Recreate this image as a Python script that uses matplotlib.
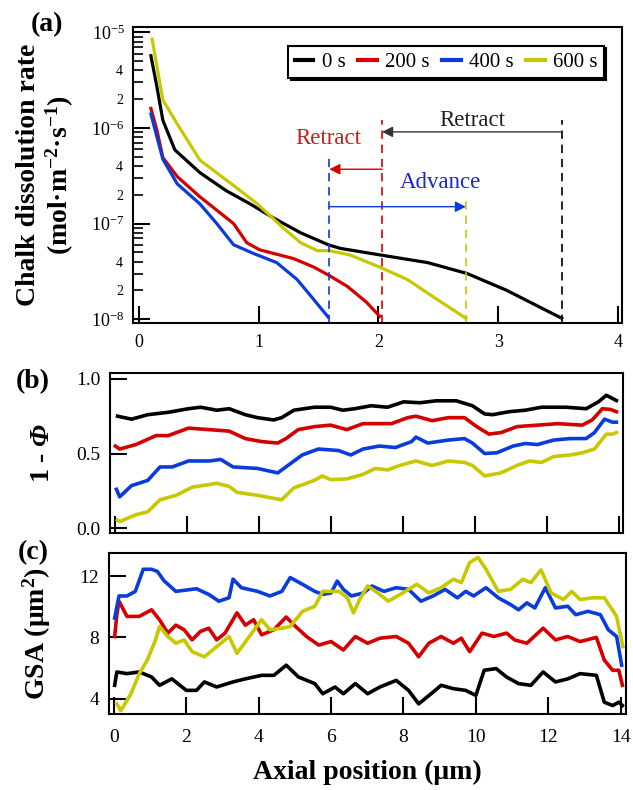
import matplotlib
matplotlib.use("Agg")
import matplotlib.pyplot as plt
from matplotlib.ticker import FixedLocator, FixedFormatter

# ==================================================
# Fonts (Times-like serif, bold labels)
# ==================================================
plt.rcParams["font.family"] = ["Liberation Serif", "DejaVu Serif"]
plt.rcParams["mathtext.fontset"] = "custom"
plt.rcParams["mathtext.rm"] = "Liberation Serif"
plt.rcParams["mathtext.it"] = "Liberation Serif:italic"
plt.rcParams["mathtext.bf"] = "Liberation Serif:bold"
# sf slot used for the bold italic Phi (mathtext forces capital Greek upright in "it")
plt.rcParams["mathtext.sf"] = "Liberation Serif:italic:bold"
plt.rcParams["axes.unicode_minus"] = False

# ==================================================
# Data
# ==================================================
series_labels = ["0 s", "200 s", "400 s", "600 s"]
series_colors = ["#000000", "#d40000", "#0a3cdc", "#c8c800"]

# (a) chalk dissolution rate vs axial position
rate_x_0s = [0.10, 0.15, 0.20, 0.30, 0.51, 0.73, 0.93, 1.12, 1.35, 1.58, 1.68, 2.01, 2.41, 2.74, 3.07, 3.53]
rate_y_0s = [5.7e-6, 2.7e-6, 1.2e-6, 5.9e-7, 3.4e-7, 2.2e-7, 1.6e-7, 1.15e-7, 8.0e-8, 6.0e-8, 5.5e-8,
             4.7e-8, 3.9e-8, 3.0e-8, 2.0e-8, 1.02e-8]
rate_x_200s = [0.10, 0.15, 0.20, 0.32, 0.51, 0.79, 0.90, 1.01, 1.29, 1.46, 1.58, 1.74, 1.90, 2.01]
rate_y_200s = [1.6e-6, 9.5e-7, 4.9e-7, 3.1e-7, 1.9e-7, 1.0e-7, 6.3e-8, 5.3e-8, 4.3e-8, 3.5e-8, 2.9e-8,
               2.2e-8, 1.5e-8, 1.07e-8]
rate_x_400s = [0.10, 0.15, 0.20, 0.32, 0.51, 0.65, 0.79, 0.95, 1.15, 1.32, 1.46, 1.58]
rate_y_400s = [1.4e-6, 8.1e-7, 4.7e-7, 2.6e-7, 1.6e-7, 1.0e-7, 6.0e-8, 4.9e-8, 3.9e-8, 2.6e-8, 1.6e-8, 1.05e-8]
rate_x_600s = [0.11, 0.20, 0.32, 0.51, 0.79, 0.99, 1.20, 1.35, 1.49, 1.59, 1.76, 2.01, 2.24, 2.46, 2.73]
rate_y_600s = [8.5e-6, 1.96e-6, 1.1e-6, 4.6e-7, 2.5e-7, 1.6e-7, 9.1e-8, 6.3e-8, 5.2e-8, 5.2e-8, 4.7e-8,
               3.5e-8, 2.6e-8, 1.7e-8, 1.02e-8]

# reaction front positions and where the dashed markers stop
front_x = [3.53, 2.03, 1.59, 2.73]
front_top = [1.2e-6, 1.2e-6, 5.5e-7, 1.9e-7]

rate_major_ticks = [1e-8, 1e-7, 1e-6, 1e-5]
rate_major_labels = [r"$10^{-8}$", r"$10^{-7}$", r"$10^{-6}$", r"$10^{-5}$"]
rate_minor_ticks = [m * 10.0 ** e for e in (-8, -7, -6) for m in range(2, 10)]
rate_minor_labels = [("2" if m == 2 else "4" if m == 4 else "") for e in (-8, -7, -6) for m in range(2, 10)]

# (b) 1 - porosity
phi_x_0s = [0.08, 0.47, 0.92, 1.49, 2.05, 2.39, 2.84, 3.18, 3.63, 3.97, 4.42, 4.64, 4.98, 5.55, 6.00, 6.34,
            6.67, 7.13, 7.58, 8.03, 8.48, 8.93, 9.49, 9.94, 10.28, 10.50, 10.96, 11.41, 11.86, 12.54, 13.10,
            13.44, 13.66, 13.94]
phi_y_0s = [0.75, 0.73, 0.76, 0.776, 0.80, 0.81, 0.79, 0.80, 0.76, 0.74, 0.725, 0.74, 0.79, 0.81, 0.81, 0.79,
            0.80, 0.82, 0.81, 0.846, 0.84, 0.853, 0.853, 0.82, 0.765, 0.76, 0.78, 0.79, 0.81, 0.81, 0.80,
            0.846, 0.89, 0.855]
phi_x_200s = [0.02, 0.14, 0.59, 1.15, 1.49, 2.05, 2.62, 3.18, 3.63, 4.08, 4.53, 4.76, 5.10, 5.55, 6.00, 6.45,
              6.90, 7.35, 7.69, 8.14, 8.37, 8.82, 9.27, 9.72, 10.06, 10.40, 10.73, 11.18, 11.75, 12.31, 12.99,
              13.27, 13.55, 13.78, 13.94]
phi_y_200s = [0.55, 0.53, 0.56, 0.62, 0.62, 0.67, 0.66, 0.65, 0.60, 0.58, 0.57, 0.60, 0.66, 0.68, 0.69, 0.66,
              0.70, 0.70, 0.70, 0.74, 0.75, 0.72, 0.74, 0.74, 0.68, 0.63, 0.64, 0.68, 0.69, 0.70, 0.69,
              0.725, 0.80, 0.795, 0.78]
phi_x_400s = [0.05, 0.14, 0.47, 0.92, 1.26, 1.60, 2.05, 2.62, 2.95, 3.29, 3.97, 4.53, 4.87, 5.21, 5.66, 6.22,
              6.56, 6.90, 7.35, 7.80, 8.25, 8.37, 8.70, 9.27, 9.72, 9.94, 10.28, 10.62, 11.07, 11.41, 11.75,
              12.20, 12.65, 13.10, 13.33, 13.61, 13.83, 13.94]
phi_y_400s = [0.26, 0.21, 0.285, 0.32, 0.41, 0.41, 0.45, 0.45, 0.46, 0.41, 0.40, 0.37, 0.43, 0.49, 0.53, 0.52,
              0.49, 0.53, 0.55, 0.54, 0.58, 0.61, 0.57, 0.59, 0.60, 0.57, 0.50, 0.505, 0.55, 0.567, 0.56,
              0.59, 0.60, 0.60, 0.64, 0.73, 0.71, 0.71]
phi_x_600s = [0.08, 0.14, 0.59, 0.92, 1.26, 1.71, 2.16, 2.84, 3.18, 3.40, 3.97, 4.42, 4.64, 4.98, 5.55, 5.77,
              6.00, 6.45, 6.90, 7.24, 7.58, 7.92, 8.37, 8.82, 9.27, 9.72, 9.94, 10.28, 10.73, 11.18, 11.52,
              11.86, 12.20, 12.65, 12.99, 13.33, 13.66, 13.83, 13.94]
phi_y_600s = [0.055, 0.044, 0.09, 0.11, 0.19, 0.22, 0.275, 0.30, 0.28, 0.24, 0.22, 0.20, 0.19, 0.27, 0.32, 0.35,
              0.325, 0.33, 0.36, 0.40, 0.39, 0.42, 0.45, 0.42, 0.45, 0.44, 0.42, 0.35, 0.37, 0.42, 0.45,
              0.44, 0.48, 0.49, 0.505, 0.53, 0.63, 0.63, 0.64]

# (c) grain surface area
gsa_x_0s = [0.02, 0.08, 0.36, 0.70, 1.04, 1.26, 1.60, 2.00, 2.28, 2.50, 2.84, 3.29, 3.63, 4.08, 4.42, 4.76,
            5.10, 5.55, 5.77, 6.11, 6.34, 6.67, 7.01, 7.35, 7.80, 8.14, 8.42, 8.82, 9.04, 9.38, 9.72, 10.00,
            10.23, 10.56, 10.85, 11.18, 11.52, 11.86, 12.20, 12.54, 12.88, 13.33, 13.55, 13.78, 13.95, 14.05]
gsa_y_0s = [4.88, 5.75, 5.64, 5.75, 5.42, 4.88, 5.30, 4.55, 4.55, 5.10, 4.77, 5.10, 5.30, 5.53, 5.53, 6.19,
            5.42, 4.99, 4.33, 4.77, 4.33, 4.99, 4.33, 4.77, 5.20, 4.55, 3.67, 4.44, 4.88, 4.66, 4.55, 4.22,
            5.86, 5.97, 5.42, 4.99, 4.88, 5.75, 5.10, 5.30, 5.64, 5.53, 3.78, 3.56, 3.78, 3.56]
gsa_x_200s = [0.02, 0.08, 0.14, 0.36, 0.70, 1.04, 1.26, 1.49, 1.71, 1.94, 2.16, 2.39, 2.62, 2.84, 3.07, 3.40,
              3.63, 3.86, 4.08, 4.42, 4.76, 4.98, 5.32, 5.66, 6.00, 6.34, 6.67, 7.01, 7.35, 7.80, 8.14, 8.42,
              8.70, 9.04, 9.38, 9.60, 9.83, 10.17, 10.50, 10.85, 11.07, 11.41, 11.86, 12.20, 12.54, 12.88,
              13.33, 13.55, 13.78, 13.95, 14.05]
gsa_y_200s = [8.06, 9.48, 10.36, 9.37, 9.37, 9.80, 9.15, 8.28, 8.80, 8.50, 7.84, 8.39, 8.60, 7.84, 8.28, 9.60,
              8.80, 9.15, 8.17, 8.50, 9.33, 8.80, 8.06, 7.50, 7.73, 7.18, 8.06, 7.62, 7.95, 8.06, 7.62, 6.74,
              7.62, 8.06, 7.62, 7.95, 7.07, 8.28, 8.06, 8.28, 7.84, 7.62, 8.60, 7.84, 8.06, 7.73,
              8.00, 6.52, 5.86, 5.86, 4.88]
gsa_x_400s = [0.02, 0.14, 0.36, 0.59, 0.81, 1.04, 1.20, 1.38, 1.71, 2.28, 2.62, 2.90, 3.18, 3.29, 3.52, 3.97,
              4.31, 4.64, 4.87, 5.21, 5.55, 5.77, 6.00, 6.17, 6.34, 6.56, 6.90, 7.13, 7.46, 7.80, 8.14, 8.48,
              8.82, 9.15, 9.49, 9.72, 9.94, 10.28, 10.62, 10.96, 11.18, 11.41, 11.63, 11.92, 12.20, 12.54,
              12.76, 13.10, 13.44, 13.66, 13.89, 14.03]
gsa_y_400s = [9.26, 10.70, 10.70, 11.00, 12.44, 12.44, 12.30, 11.70, 11.00, 11.17, 10.80, 10.36, 10.58, 11.80,
              11.24, 11.00, 10.70, 11.00, 11.90, 11.46, 11.00, 10.80, 10.90, 11.67, 11.13, 10.70, 10.90, 11.35,
              11.00, 11.24, 11.13, 10.36, 10.70, 11.13, 10.58, 11.00, 10.70, 11.24, 10.58, 10.14, 9.80, 10.25,
              9.92, 11.24, 9.92, 10.03, 9.48, 9.70, 9.48, 8.50, 8.06, 6.19]
gsa_x_600s = [0.08, 0.19, 0.47, 0.70, 0.92, 1.15, 1.26, 1.49, 1.71, 1.94, 2.16, 2.50, 2.84, 3.18, 3.40, 3.74,
              4.08, 4.31, 4.64, 4.87, 5.21, 5.55, 5.77, 6.22, 6.45, 6.62, 6.79, 7.01, 7.29, 7.58, 7.91, 8.37,
              8.70, 9.04, 9.38, 9.60, 9.83, 10.06, 10.28, 10.62, 10.96, 11.30, 11.52, 11.80, 12.08, 12.42,
              12.65, 12.88, 13.22, 13.55, 13.89, 14.06]
gsa_y_600s = [3.67, 3.23, 4.33, 5.64, 6.52, 7.84, 8.71, 8.06, 7.62, 7.84, 7.07, 6.74, 7.40, 8.06, 6.96, 8.06,
              9.15, 8.50, 8.60, 8.71, 9.70, 10.03, 11.00, 11.00, 10.58, 9.60, 10.47, 11.35, 10.90, 10.36, 10.80,
              11.46, 10.90, 11.24, 11.79, 11.57, 12.88, 13.21, 12.44, 11.00, 11.13, 11.79, 11.57, 12.40, 10.90,
              10.47, 11.00, 10.47, 10.58, 10.58, 9.37, 7.40]

position_ticks = [0, 2, 4, 6, 8, 10, 12, 14]
rate_x_ticks = [0, 1, 2, 3, 4]
phi_ticks = [0.0, 0.5, 1.0]
gsa_ticks = [4, 8, 12]


# ==================================================
# Helpers
# ==================================================
def style_axes(ax, labelsize):
    for sp in ax.spines.values():
        sp.set_linewidth(1.5)
    ax.tick_params(which="major", direction="in", length=12, width=1.5,
                   top=False, right=False, labelsize=labelsize, pad=7)
    ax.tick_params(which="minor", direction="in", length=7, width=1.2,
                   top=False, right=False)


fig = plt.figure(figsize=(6.33, 7.9), dpi=100)
ax_a = fig.add_axes([0.210, 0.591, 0.773, 0.375])
ax_b = fig.add_axes([0.174, 0.325, 0.810, 0.203])
ax_c = fig.add_axes([0.172, 0.096, 0.817, 0.204])

# ==================================================
# (a) dissolution rate
# ==================================================
rate_x = [rate_x_0s, rate_x_200s, rate_x_400s, rate_x_600s]
rate_y = [rate_y_0s, rate_y_200s, rate_y_400s, rate_y_600s]
for xs, ys, lab, col in zip(rate_x, rate_y, series_labels, series_colors):
    ax_a.plot(xs, ys, color=col, lw=2.3, label=lab)

ax_a.set_yscale("log")
ax_a.set_xlim(-0.05, 4.035)
ax_a.set_ylim(10 ** -8.042, 10 ** -4.942)

for fx, ft, col in zip(front_x, front_top, series_colors):
    ax_a.plot([fx, fx], [10 ** -8.042, ft], color=col, lw=1.2, dashes=(5, 3.5))

arrow_kw = dict(arrowstyle="-|>", lw=1.0, mutation_scale=16, shrinkA=0, shrinkB=0)
ax_a.annotate("", xy=(front_x[1], 9.1e-7), xytext=(front_x[0], 9.1e-7),
              arrowprops=dict(color="#333333", **arrow_kw))
ax_a.annotate("", xy=(front_x[2], 3.7e-7), xytext=(front_x[1], 3.7e-7),
              arrowprops=dict(color=series_colors[1], **arrow_kw))
ax_a.annotate("", xy=(front_x[3], 1.5e-7), xytext=(front_x[2], 1.5e-7),
              arrowprops=dict(color=series_colors[2], **arrow_kw))
ax_a.text(2.78, 1.2e-6, "Retract", color="#222222", fontsize=16.5, ha="center", va="center")
ax_a.text(1.58, 7.7e-7, "Retract", color="#c02020", fontsize=16.5, ha="center", va="center")
ax_a.text(2.52, 2.7e-7, "Advance", color="#1a28d0", fontsize=16.5, ha="center", va="center")

style_axes(ax_a, 13)
ax_a.set_xticks(rate_x_ticks)
ax_a.yaxis.set_major_locator(FixedLocator(rate_major_ticks))
ax_a.yaxis.set_major_formatter(FixedFormatter(rate_major_labels))
ax_a.yaxis.set_minor_locator(FixedLocator(rate_minor_ticks))
ax_a.yaxis.set_minor_formatter(FixedFormatter(rate_minor_labels))
ax_a.tick_params(axis="y", which="minor", labelsize=10, pad=7)
ax_a.tick_params(axis="y", which="major", pad=6)
ax_a.xaxis.set_tick_params(pad=8)

ax_a.set_ylabel("Chalk dissolution rate\n" + r"(mol·m$^{\mathbf{-2}}$·s$^{\mathbf{-1}}$)",
                fontsize=20, fontweight="bold", linespacing=1.1)
ax_a.yaxis.set_label_coords(-0.117, 0.5)

leg = ax_a.legend(loc="upper right", bbox_to_anchor=(0.963, 0.935), borderaxespad=0, ncol=4,
                  fontsize=15, handlelength=0.9, handletextpad=0.4, columnspacing=0.6,
                  borderpad=0.3, fancybox=False, framealpha=1,
                  shadow={"color": "black", "alpha": 1, "ox": 1.5, "oy": -1.5})
leg.get_frame().set_edgecolor("black")
leg.get_frame().set_linewidth(1.5)
for line in leg.get_lines():
    line.set_linewidth(3)

# ==================================================
# (b) 1 - porosity
# ==================================================
phi_x = [phi_x_0s, phi_x_200s, phi_x_400s, phi_x_600s]
phi_y = [phi_y_0s, phi_y_200s, phi_y_400s, phi_y_600s]
for xs, ys, col in zip(phi_x, phi_y, series_colors):
    ax_b.plot(xs, ys, color=col, lw=2.6)
ax_b.set_xlim(-0.125, 14.12)
ax_b.set_ylim(-0.034, 1.04)
style_axes(ax_b, 14)
ax_b.set_xticks(position_ticks)
ax_b.set_xticklabels([])
ax_b.set_yticks(phi_ticks)
ax_b.set_yticklabels(["%.1f" % v for v in phi_ticks])
ax_b.set_ylabel(r"1 - $\mathsf{\Phi}$", fontsize=20, fontweight="bold")
ax_b.yaxis.set_label_coords(-0.108, 0.5)

# ==================================================
# (c) grain surface area
# ==================================================
gsa_x = [gsa_x_0s, gsa_x_200s, gsa_x_400s, gsa_x_600s]
gsa_y = [gsa_y_0s, gsa_y_200s, gsa_y_400s, gsa_y_600s]
for xs, ys, col in zip(gsa_x, gsa_y, series_colors):
    ax_c.plot(xs, ys, color=col, lw=2.6)
ax_c.set_xlim(-0.14, 14.15)
ax_c.set_ylim(3.0, 13.5)
style_axes(ax_c, 14)
ax_c.set_xticks(position_ticks)
ax_c.set_yticks(gsa_ticks)
ax_c.xaxis.set_tick_params(pad=11)
ax_c.set_ylabel(r"GSA (μm$^{\mathbf{2}}$)", fontsize=20, fontweight="bold")
ax_c.yaxis.set_label_coords(-0.108, 0.5)
ax_c.set_xlabel("Axial position (μm)", fontsize=20, fontweight="bold", labelpad=10)

# panel letters
fig.text(47 / 633, 1 - 25 / 790, "(a)", fontsize=20, fontweight="bold", ha="center", va="center")
fig.text(33 / 633, 1 - 382 / 790, "(b)", fontsize=20, fontweight="bold", ha="center", va="center")
fig.text(33 / 633, 1 - 553 / 790, "(c)", fontsize=20, fontweight="bold", ha="center", va="center")

fig.savefig("out.png", dpi=100)
